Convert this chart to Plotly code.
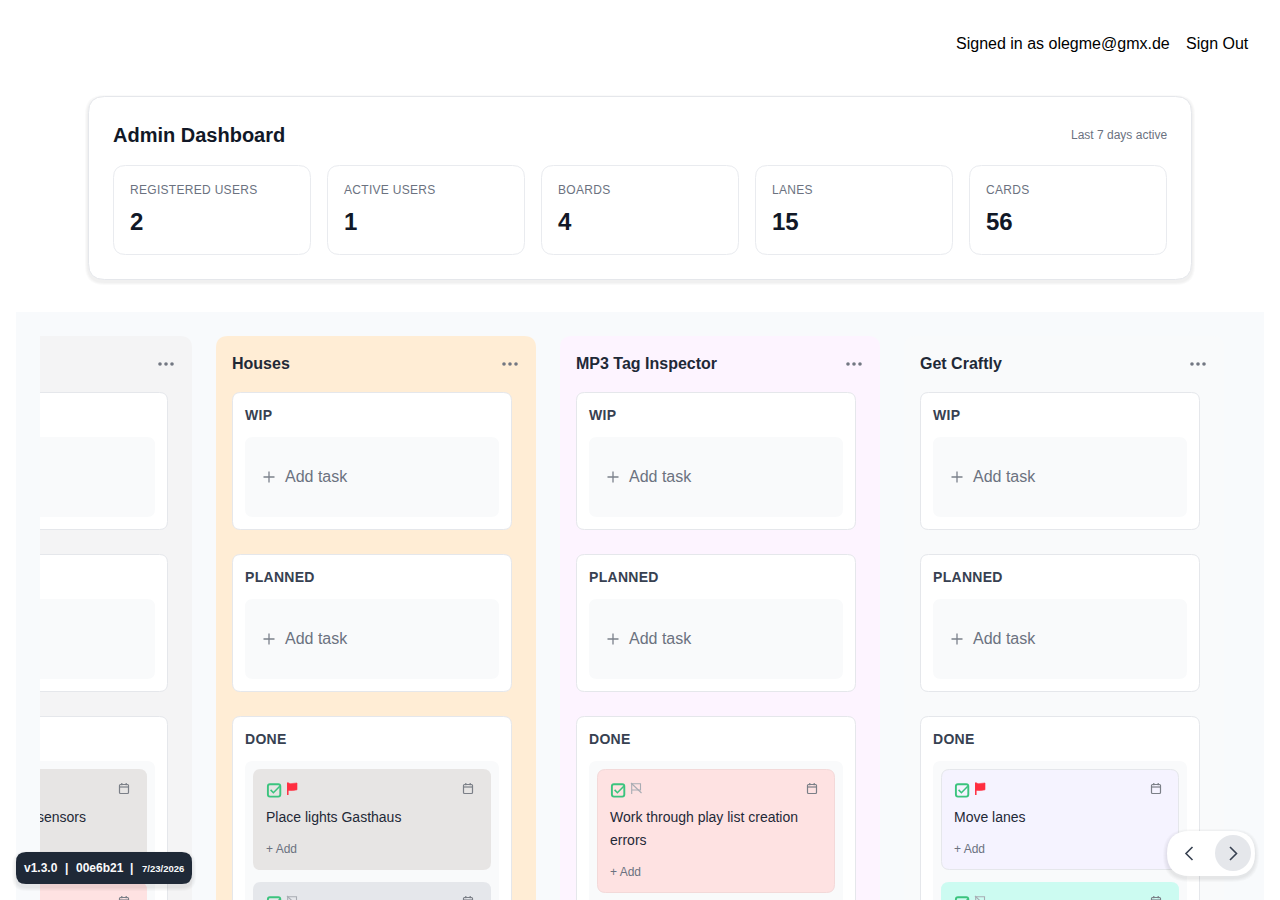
"""
plot.py

Kanban admin page drawn with Plotly shapes and annotations.
"""

from __future__ import annotations

import plotly.graph_objects as go

USER_LABEL = "Signed in as olegme@gmx.de"
SIGN_OUT_LABEL = "Sign Out"
DASHBOARD_TITLE = "Admin Dashboard"
DASHBOARD_NOTE = "Last 7 days active"
STAT_LABELS = ["REGISTERED USERS", "ACTIVE USERS", "BOARDS", "LANES", "CARDS"]
STAT_VALUES = [2, 1, 4, 15, 56]

BOARD_NAMES = ["", "Houses", "MP3 Tag Inspector", "Get Craftly"]
LANE_NAMES = ["WIP", "PLANNED", "DONE"]
ADD_TASK_LABEL = "Add task"
ADD_CARD_LABEL = "+ Add"
FIRST_CARD_LINES = [
    ["sensors"],
    ["Place lights Gasthaus"],
    ["Work through play list creation", "errors"],
    ["Move lanes"],
]
FIRST_CARD_FLAGGED = [True, True, False, True]
SECOND_CARD_FLAGGED = [False, False, None, False]

VERSION_LABEL = "v1.3.0"
COMMIT_LABEL = "00e6b21"
BUILD_DATE_LABEL = "7/23/2026"

BOARD_COLORS = ["#F4F4F5", "#FFEDD5", "#FDF4FF", "#F9FAFB"]
FIRST_CARD_COLORS = ["#E7E5E4", "#E7E5E4", "#FEE2E2", "#F5F3FF"]
FIRST_CARD_BORDERS = [None, None, "#F3D9D9", "#E5E7EB"]
SECOND_CARD_COLORS = ["#FEE2E2", "#E5E7EB", None, "#CCFBF1"]

FONT = "Liberation Sans"
shapes: list[dict] = []
annotations: list[dict] = []
# shapes stay under the clipped card text until the scroller edge is drawn
current_layer = "below"


def rounded_path(x0, y0, x1, y1, r):
    return (
        f"M{x0 + r},{y0} L{x1 - r},{y0} Q{x1},{y0} {x1},{y0 + r} "
        f"L{x1},{y1 - r} Q{x1},{y1} {x1 - r},{y1} L{x0 + r},{y1} Q{x0},{y1} {x0},{y1 - r} "
        f"L{x0},{y0 + r} Q{x0},{y0} {x0 + r},{y0} Z"
    )


def box(x0, y0, x1, y1, r, fill, border=None, opacity=1.0):
    inset = 0.5 if border else 0
    shapes.append(dict(
        type="path",
        path=rounded_path(x0 + inset, y0 + inset, x1 - inset, y1 - inset, r),
        fillcolor=fill,
        line=dict(color=border, width=1) if border else dict(width=0),
        opacity=opacity,
        layer=current_layer,
    ))


def stroke(path, color, width=1.3, fill=None):
    shapes.append(dict(
        type="path",
        path=path,
        fillcolor=fill or "rgba(0,0,0,0)",
        line=dict(color=color, width=width),
        layer=current_layer,
    ))


def soft_shadow(x0, y0, x1, y1, r, steps=3, drop=2):
    for step in range(steps, 0, -1):
        box(x0 - step, y0 - step + drop, x1 + step, y1 + step + drop, r + step,
            "#000000", opacity=0.018)


def label(x, y, text, size, color, bold=False, anchor="left", spacing=None):
    shown = f"<b>{text}</b>" if bold else text
    if spacing:
        shown = f'<span style="letter-spacing:{spacing}px">{shown}</span>'
    annotations.append(dict(
        x=x, y=y, text=shown, xref="x", yref="y",
        xanchor=anchor, yanchor="middle",
        showarrow=False, borderpad=0, borderwidth=0,
        font=dict(family=FONT, size=size, color=color),
    ))


def done_icon(x, y):
    stroke(rounded_path(x + 0.9, y + 0.7, x + 13.3, y + 13.1, 2), "#3BC47E", 1.9)
    stroke(f"M{x + 3.6},{y + 6.4} L{x + 6.4},{y + 9.2} L{x + 12.8},{y + 2.8}", "#3BC47E", 1.6)


def flag_icon(x, y, flagged):
    if flagged:
        stroke(f"M{x + 0.8},{y - 0.5} L{x + 0.8},{y + 12}", "#FF2D3F", 1.5)
        stroke(
            f"M{x + 0.8},{y} Q{x + 3.5},{y + 1.2} {x + 6},{y + 0.4} L{x + 10},{y} "
            f"L{x + 10},{y + 6.8} Q{x + 6},{y + 8} {x + 0.8},{y + 7.2} Z",
            "#FF2D3F", 0.6, fill="#FF2D3F",
        )
    else:
        stroke(f"M{x + 0.7},{y + 0.5} L{x + 0.7},{y + 11} "
               f"M{x + 0.7},{y + 0.8} L{x + 9.5},{y + 0.8} L{x + 9.5},{y + 7} L{x + 0.7},{y + 7}",
               "#A8ACB3", 1.1)
        stroke(f"M{x},{y} L{x + 10.5},{y + 10}", "#A8ACB3", 1.1)


def calendar_icon(x, y):
    stroke(rounded_path(x + 0.5, y + 1.5, x + 9.5, y + 10.5, 1), "#7B7F87", 1.2)
    stroke(f"M{x + 0.5},{y + 4} L{x + 9.5},{y + 4}", "#7B7F87", 1.2)
    stroke(f"M{x + 2.8},{y} L{x + 2.8},{y + 2.2} M{x + 7.2},{y} L{x + 7.2},{y + 2.2}", "#7B7F87", 1.2)


def draw_card(x0, y0, y1, fill, border, flagged):
    box(x0, y0, x0 + 238, y1, 8, fill, border)
    done_icon(x0 + 14, y0 + 14.5)
    flag_icon(x0 + 34, y0 + 14, flagged)
    calendar_icon(x0 + 210, y0 + 14)


def draw_board(index):
    col = -128 + index * 344
    box(col, 336, col + 320, 960, 12, BOARD_COLORS[index])
    if BOARD_NAMES[index]:
        label(col + 16, 363.5, BOARD_NAMES[index], 16, "#1F2937", bold=True)
    for offset in (-6, 0, 6):
        shapes.append(dict(
            type="circle", x0=col + 292.2 + offset, x1=col + 295.8 + offset, y0=362.2, y1=365.8,
            fillcolor="#727782", line=dict(width=0), layer=current_layer,
        ))

    lane_tops = [392, 554, 716]
    for lane, top in enumerate(lane_tops):
        is_last = lane == len(LANE_NAMES) - 1
        bottom = 960 if is_last else top + 138
        box(col + 16, top, col + 296, bottom, 8, "#FFFFFF", "#E5E7EB")
        if index > 0:
            label(col + 29, top + 23, LANE_NAMES[lane], 14, "#374151", bold=True, spacing=0.3)
        inner_bottom = 960 if is_last else top + 125
        box(col + 29, top + 45, col + 283, inner_bottom, 8, "#F9FAFB")
        if not is_last and index > 0:
            middle = top + 85
            stroke(f"M{col + 53},{middle - 5.5} L{col + 53},{middle + 5.5} "
                   f"M{col + 47.5},{middle} L{col + 58.5},{middle}", "#7B818B", 1.3)
            label(col + 69, middle - 0.5, ADD_TASK_LABEL, 16, "#6B7280")

    card_x = col + 37
    lines = FIRST_CARD_LINES[index]
    first_y0 = 769
    first_y1 = first_y0 + 101 + 23 * (len(lines) - 1)
    draw_card(card_x, first_y0, first_y1, FIRST_CARD_COLORS[index],
              FIRST_CARD_BORDERS[index], FIRST_CARD_FLAGGED[index])
    if index > 0:
        for row, line in enumerate(lines):
            label(card_x + 13, 817 + 23 * row, line, 14, "#1F2937")
        label(card_x + 13, first_y1 - 21.5, ADD_CARD_LABEL, 12, "#6B7280")

    if SECOND_CARD_COLORS[index]:
        draw_card(card_x, first_y1 + 12, 1000, SECOND_CARD_COLORS[index],
                  None, SECOND_CARD_FLAGGED[index])


# top bar
label(956, 43.5, USER_LABEL, 16, "#000000")
label(1186, 43.5, SIGN_OUT_LABEL, 16, "#000000")

# dashboard panel
soft_shadow(88, 96, 1192, 280, 16)
box(88, 96, 1192, 280, 16, "#FFFFFF", "#E5E7EB")
label(113, 135, DASHBOARD_TITLE, 20, "#111827", bold=True)
label(1167, 135, DASHBOARD_NOTE, 12, "#6B7280", anchor="right")
for position, (stat_label, stat_value) in enumerate(zip(STAT_LABELS, STAT_VALUES)):
    tile_x = 113 + position * 214
    box(tile_x, 165, tile_x + 198, 255, 12, "#FFFFFF", "#E9EBEF")
    label(tile_x + 17, 189.5, stat_label, 12, "#6B7280", spacing=0.3)
    label(tile_x + 17, 221.5, str(stat_value), 24, "#111827", bold=True)

# board area
box(16, 312, 1264, 960, 0, "#F8FAFC")
for board_index in range(len(BOARD_NAMES)):
    draw_board(board_index)

# the scroller clips the first board at its left padding
current_layer = "above"
box(0, 312, 16, 900, 0, "#FFFFFF")
box(16, 312, 40, 900, 0, "#F8FAFC")
box(1264, 312, 1280, 900, 0, "#FFFFFF")

# version badge
soft_shadow(16, 852, 192, 884, 10, steps=4, drop=3)
box(16, 852, 192, 884, 10, "#1F2937")
label(24, 868, VERSION_LABEL, 12, "#F9FAFB", bold=True)
label(65, 868, "|", 12, "#F9FAFB", bold=True)
label(76, 868, COMMIT_LABEL, 12, "#F9FAFB", bold=True)
label(130, 868, "|", 12, "#F9FAFB", bold=True)
label(142, 868, BUILD_DATE_LABEL, 9.5, "#F9FAFB", bold=True)

# scroll buttons
soft_shadow(1167, 831, 1255, 876, 22, steps=4, drop=2)
box(1167, 831, 1255, 876, 22.5, "#FFFFFF")
shapes.append(dict(type="circle", x0=1215, x1=1251, y0=835, y1=871,
                   fillcolor="#E5E7EB", line=dict(width=0), layer=current_layer))
stroke("M1192.5,847 L1186,853.5 L1192.5,860", "#374151", 1.6)
stroke("M1230,847 L1236.5,853.5 L1230,860", "#374151", 1.6)

# long title of the first board's card, cut by the scroller edge
clipped_card_text = go.Scatter(
    x=[86],
    y=[818],
    text=FIRST_CARD_LINES[0],
    mode="text",
    textposition="middle left",
    textfont=dict(family=FONT, size=14, color="#1F2937"),
    hoverinfo="skip",
    cliponaxis=True,
)

fig = go.Figure(data=[clipped_card_text])
fig.update_layout(
    width=1280,
    height=900,
    margin=dict(l=0, r=0, t=0, b=0),
    paper_bgcolor="#FFFFFF",
    plot_bgcolor="#FFFFFF",
    showlegend=False,
    xaxis=dict(range=[0, 1280], visible=False, fixedrange=True),
    yaxis=dict(range=[900, 0], visible=False, fixedrange=True),
    shapes=shapes,
    annotations=annotations,
)
fig.write_html(
    "out.html",
    config=dict(displayModeBar=False),
    post_script="document.body.style.margin='0';document.body.style.overflow='hidden';",
)
